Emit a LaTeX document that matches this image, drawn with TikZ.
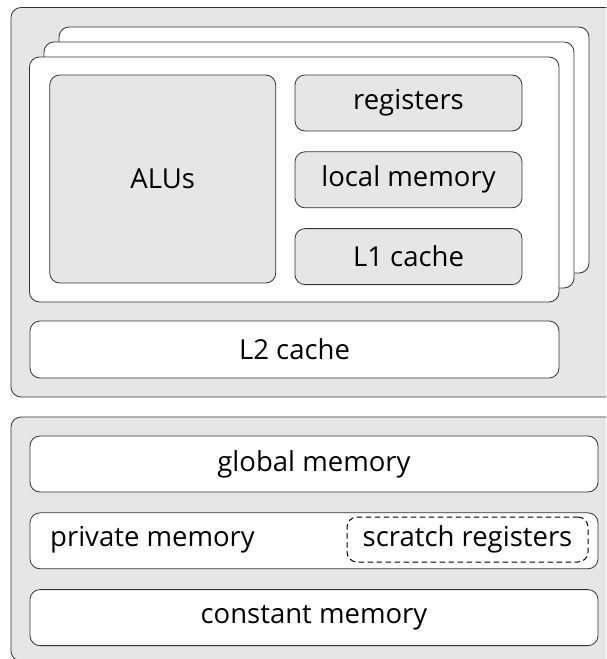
\documentclass[tikz,border=0pt]{standalone}
\usepackage{fontspec}
\setmainfont{Open Sans}
\usetikzlibrary{positioning}
\definecolor{panel}{HTML}{E6E6E6}
\definecolor{edge}{HTML}{333333}
\tikzset{
  label/.style={inner sep=0pt,font=\fontsize{27.5}{32}\selectfont},
  unit/.style={label,draw=edge,line width=0.8pt,rounded corners=10pt},
  grey/.style={unit,fill=panel},
  white/.style={unit,fill=white},
  scratchbox/.style={unit,draw=black,line width=1pt,dash pattern=on 5pt off 4pt}
}
\begin{document}
\begin{tikzpicture}[line cap=round,line join=round,x=1pt,y=-1pt]
\useasboundingbox (0,0) rectangle (606,659);
\clip (0,0) rectangle (606,659);
\draw[grey] (11,7.5) rectangle (640,397);
\draw[white] (59,27) rectangle (589,273);
\draw[white] (44,42) rectangle (574,288);
\draw[white] (29.5,57) rectangle (559,302);
\node[grey,minimum width=226pt,minimum height=208pt] (alus) at (162.75,179) {ALUs};
\node[grey,minimum width=227pt,minimum height=56pt] (regs) at (408.5,103) {registers};
\node[grey,minimum width=227pt,minimum height=56pt,below=20pt of regs] (local) {local memory};
\node[grey,minimum width=227pt,minimum height=56pt,below=20pt of local] (lone) {L1 cache};
\node[white,minimum width=529pt,minimum height=57pt] (ltwo) at (294.5,349.5) {L2 cache};
\draw[grey] (11,417) rectangle (640,661);
\node[white,minimum width=568pt,minimum height=56pt] (global) at (314,464) {global memory};
\node[white,minimum width=568pt,minimum height=56pt,below=20pt of global] (private) {};
\node[label,anchor=west] (privtext) at (50,540) {private memory};
\node[scratchbox,minimum width=241pt,minimum height=45pt] (scratch) at (467.5,539.5) {scratch registers};
\node[white,minimum width=568pt,minimum height=56pt,below=20pt of private] (const) {constant memory};
\end{tikzpicture}
\end{document}
